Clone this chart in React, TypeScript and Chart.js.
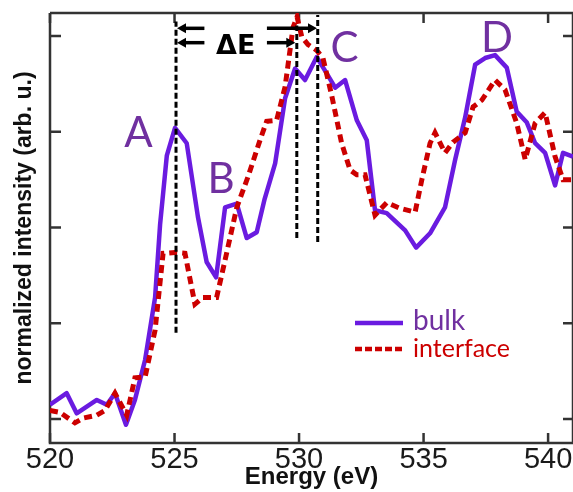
import React, { useEffect, useRef } from "react";
import { Chart, registerables } from "chart.js";

Chart.register(...registerables);

// ---- data ----
const xTickValues = [520, 525, 530, 535, 540];

const bulkEnergy = [520.0, 520.67, 521.07, 521.88, 522.28, 522.61, 523.05, 523.41, 523.82, 524.22, 524.42, 524.69, 525.02, 525.49, 525.94, 526.29, 526.67, 527.03, 527.5, 527.9, 528.3, 528.62, 529.04, 529.44, 529.84, 530.24, 530.71, 531.11, 531.45, 531.85, 532.32, 532.72, 533.05, 533.52, 534.26, 534.7, 535.26, 535.86, 536.27, 536.67, 537.07, 537.47, 537.87, 538.34, 538.74, 539.14, 539.48, 539.88, 540.28, 540.6, 541.0];
const bulkIntensity = [0.15, 0.27, 0.06, 0.2, 0.15, 0.27, -0.06, 0.2, 0.62, 1.27, 2.03, 2.75, 3.04, 2.88, 2.11, 1.64, 1.48, 2.21, 2.25, 1.89, 1.95, 2.3, 2.67, 3.35, 3.66, 3.54, 3.78, 3.61, 3.46, 3.54, 3.12, 2.91, 2.18, 2.15, 1.97, 1.79, 1.94, 2.21, 2.71, 3.15, 3.7, 3.77, 3.8, 3.67, 3.21, 3.1, 2.88, 2.78, 2.44, 2.78, 2.74];

const interfaceEnergy = [520.0, 520.4, 521.0, 521.33, 521.88, 522.21, 522.61, 523.08, 523.41, 523.82, 524.22, 524.54, 525.02, 525.42, 525.82, 526.14, 526.69, 527.03, 527.5, 527.95, 528.43, 528.7, 529.1, 529.44, 529.76, 529.92, 530.11, 530.36, 530.71, 530.96, 531.31, 531.71, 532.05, 532.32, 532.65, 533.05, 533.52, 534.06, 534.66, 534.93, 535.26, 535.46, 535.86, 536.18, 536.67, 536.99, 537.34, 537.87, 538.27, 538.74, 539.08, 539.48, 539.88, 540.28, 540.6, 541.0];
const interfaceIntensity = [0.09, 0.07, -0.04, 0.01, 0.04, 0.09, 0.27, 0.04, 0.43, 0.44, 0.93, 1.73, 1.74, 1.73, 1.2, 1.27, 1.27, 1.66, 2.21, 2.53, 2.91, 3.11, 3.12, 3.47, 4.09, 4.2, 3.99, 3.91, 3.85, 3.77, 3.38, 2.88, 2.6, 2.55, 2.55, 2.13, 2.26, 2.2, 2.16, 2.5, 2.88, 2.99, 2.78, 2.89, 2.99, 3.26, 3.33, 3.54, 3.44, 3.09, 2.71, 3.09, 3.2, 2.74, 2.5, 2.5];

const peakLabels = ["A", "B", "C", "D"];
const peakEnergy = [523.55, 526.87, 531.83, 537.95];
const peakIntensity = [2.84, 2.36, 3.73, 3.83];

const markerEnergy = [525.06, 529.91, 530.75];
const markerTop = [4.15, 4.11, 4.22];
const markerBottom = [0.9, 1.89, 1.85];

// arrows: from energy -> tip energy, at intensity level
const arrowFrom = [526.2, 526.2, 528.71, 528.71];
const arrowTo = [525.1, 525.1, 530.72, 529.85];
const arrowLevel = [4.08, 3.93, 4.08, 3.93];

const deltaLabel = "ΔE";
const deltaEnergy = 527.46;
const deltaIntensity = 3.81;

const seriesNames = ["bulk", "interface"];

const BULK_COLOR = "#6a1be0";
const IFACE_COLOR = "#cc0000";
const LABEL_PURPLE = "#7030a0";

const framePlugin = {
  id: "frame",
  beforeDatasetsDraw(chart: any) {
    const { ctx, chartArea, scales } = chart;
    const { left, right, top, bottom } = chartArea;
    ctx.save();
    ctx.strokeStyle = "#333";
    ctx.lineWidth = 2.5;
    ctx.beginPath();
    ctx.moveTo(left, top);
    ctx.lineTo(right, top);
    ctx.moveTo(left, top);
    ctx.lineTo(left, bottom);
    ctx.lineTo(right, bottom);
    ctx.moveTo(right, top);
    ctx.lineTo(right, bottom);
    ctx.stroke();
    ctx.beginPath();
    scales.x.ticks.forEach((t: any) => {
      const px = scales.x.getPixelForValue(t.value);
      ctx.moveTo(px, bottom);
      ctx.lineTo(px, bottom - 10);
      ctx.moveTo(px, top);
      ctx.lineTo(px, top + 10);
    });
    scales.y.ticks.forEach((t: any) => {
      const py = scales.y.getPixelForValue(t.value);
      ctx.moveTo(left, py);
      ctx.lineTo(left + 11, py);
      ctx.moveTo(right, py);
      ctx.lineTo(right - 10, py);
    });
    ctx.stroke();
    ctx.restore();
  },
};

const annotationPlugin = {
  id: "annotations",
  afterDatasetsDraw(chart: any) {
    const { ctx, chartArea, scales } = chart;
    const xs = scales.x;
    const ys = scales.y;
    ctx.save();
    // peak letters
    ctx.fillStyle = LABEL_PURPLE;
    ctx.font = "42px Lato";
    ctx.textAlign = "center";
    ctx.textBaseline = "alphabetic";
    peakLabels.forEach((l, i) => {
      ctx.fillText(l, xs.getPixelForValue(peakEnergy[i]), ys.getPixelForValue(peakIntensity[i]));
    });
    // delta E
    ctx.fillStyle = "#000";
    ctx.font = "bold 27px 'DejaVu Sans'";
    ctx.fillText(deltaLabel, xs.getPixelForValue(deltaEnergy), ys.getPixelForValue(deltaIntensity));
    // arrows
    ctx.strokeStyle = "#000";
    ctx.fillStyle = "#000";
    ctx.lineWidth = 3.5;
    arrowFrom.forEach((f, i) => {
      const x0 = xs.getPixelForValue(f);
      const x1 = xs.getPixelForValue(arrowTo[i]);
      const y = ys.getPixelForValue(arrowLevel[i]);
      const dir = Math.sign(x1 - x0);
      const head = 9;
      ctx.beginPath();
      ctx.moveTo(x0, y);
      ctx.lineTo(x1 - dir * head * 0.8, y);
      ctx.stroke();
      ctx.beginPath();
      ctx.moveTo(x1, y);
      ctx.lineTo(x1 - dir * head, y - 5);
      ctx.lineTo(x1 - dir * head, y + 5);
      ctx.closePath();
      ctx.fill();
    });
    // legend
    const lx0 = chartArea.left + 305;
    const lx1 = chartArea.left + 353;
    const ly1 = 323;
    const ly2 = 349;
    ctx.lineWidth = 4.5;
    ctx.strokeStyle = BULK_COLOR;
    ctx.beginPath();
    ctx.moveTo(lx0, ly1);
    ctx.lineTo(lx1, ly1);
    ctx.stroke();
    ctx.strokeStyle = IFACE_COLOR;
    ctx.lineWidth = 4.5;
    ctx.setLineDash([7, 3]);
    ctx.beginPath();
    ctx.moveTo(lx0, ly2);
    ctx.lineTo(lx1, ly2);
    ctx.stroke();
    ctx.setLineDash([]);
    ctx.textAlign = "left";
    ctx.fillStyle = LABEL_PURPLE;
    ctx.font = "28px Lato";
    ctx.fillText(seriesNames[0], chartArea.left + 363, 330);
    ctx.fillStyle = IFACE_COLOR;
    ctx.font = "25px Lato";
    ctx.fillText(seriesNames[1], chartArea.left + 363, 357);
    ctx.restore();
  },
};

export default function App() {
  const ref = useRef<HTMLCanvasElement | null>(null);
  useEffect(() => {
    if (!ref.current) return;
    const markerSets = markerEnergy.map((e, i) => ({
      label: "marker" + i,
      data: [
        { x: e, y: markerBottom[i] },
        { x: e, y: markerTop[i] },
      ],
      borderColor: "#000",
      borderWidth: 3,
      borderDash: [6, 3],
      borderCapStyle: "butt",
      pointRadius: 0,
      fill: false,
    }));
    const chart = new Chart(ref.current, {
      type: "line",
      data: {
        datasets: [
          ...markerSets,
          {
            label: seriesNames[1],
            data: interfaceEnergy.map((e, i) => ({ x: e, y: interfaceIntensity[i] })),
            borderColor: IFACE_COLOR,
            borderWidth: 5,
            borderDash: [8, 5],
            pointRadius: 0,
            tension: 0,
            fill: false,
          },
          {
            label: seriesNames[0],
            data: bulkEnergy.map((e, i) => ({ x: e, y: bulkIntensity[i] })),
            borderColor: BULK_COLOR,
            borderWidth: 4.5,
            borderJoinStyle: "round",
            pointRadius: 0,
            tension: 0,
            fill: false,
          },
        ] as any,
      },
      options: {
        animation: false,
        responsive: false,
        devicePixelRatio: 1,
        layout: { padding: { top: 13, right: 0, left: 0, bottom: 0 } },
        plugins: { legend: { display: false }, tooltip: { enabled: false } },
        scales: {
          x: {
            type: "linear",
            min: 520,
            max: 541,
            position: "bottom",
            afterBuildTicks: (s: any) => {
              s.ticks = xTickValues.map((v) => ({ value: v }));
            },
            ticks: {
              stepSize: 5,
              includeBounds: false,
              autoSkip: false,
              maxRotation: 0,
              padding: 0,
              color: "#1a1a1a",
              font: { family: "Liberation Sans", size: 29 },
            },
            grid: { display: false, drawTicks: false },
            border: { display: false },
            title: {
              display: true,
              text: "Energy (eV)",
              color: "#111",
              font: { family: "Liberation Sans", size: 24, weight: "bold" },
              padding: { top: 0, bottom: 0 },
            },
            afterFit: (s: any) => {
              s.height = 49;
              s.paddingLeft = 0;
              s.paddingRight = 0;
            },
          },
          y: {
            type: "linear",
            min: -0.25,
            max: 4.24,
            ticks: { display: false, stepSize: 1, includeBounds: false },
            grid: { display: false, drawTicks: false },
            border: { display: false },
            title: {
              display: true,
              text: "normalized intensity (arb. u.)",
              color: "#111",
              font: { family: "Liberation Sans", size: 23, weight: "bold" },
              padding: { top: 11, bottom: 0 },
            },
            afterFit: (s: any) => {
              s.width = 50;
            },
          },
        },
      } as any,
      plugins: [framePlugin, annotationPlugin],
    });
    return () => chart.destroy();
  }, []);
  return (
    <div style={{ position: "absolute", left: 0, top: 0, width: 573, height: 492, background: "#fff" }}>
      <canvas ref={ref} width={573} height={492} style={{ display: "block" }} />
    </div>
  );
}
